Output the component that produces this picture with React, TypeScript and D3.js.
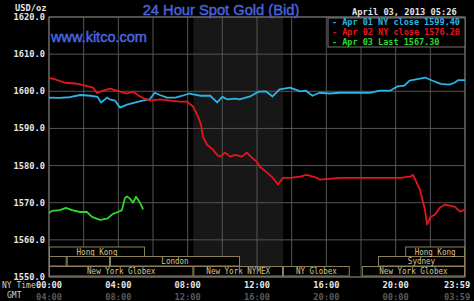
import React from "react";
import * as d3 from "d3";

const W = 474;
const H = 301;

const yTicks = [1550, 1560, 1570, 1580, 1590, 1600, 1610, 1620];
const nyTimeLabels = ["00:00", "04:00", "08:00", "12:00", "16:00", "20:00", "23:59"];
const gmtLabels = ["04:00", "08:00", "12:00", "16:00", "20:00", "00:00", "03:59"];
const labelHours = [0, 4, 8, 12, 16, 20, 23.55];

// [hour (NY time), price]
const apr01: [number, number][] = [
  [0, 1598.3], [0.6, 1598.2], [1.2, 1598.4], [1.8, 1599.0], [2.4, 1598.8], [2.8, 1598.5],
  [3.0, 1597.0], [3.35, 1598.3], [3.5, 1597.8], [3.8, 1597.5], [4.1, 1595.6], [4.5, 1596.4],
  [5.0, 1597.0], [5.4, 1597.5], [5.8, 1597.8], [6.1, 1599.6], [6.4, 1599.0], [6.8, 1598.3],
  [7.3, 1598.3], [7.7, 1598.8], [8.1, 1599.4], [8.7, 1598.8], [9.3, 1598.8], [9.7, 1597.0],
  [10.0, 1598.5], [10.3, 1597.8], [10.7, 1598.0], [11.0, 1597.8], [11.6, 1598.6], [12.1, 1599.9],
  [12.5, 1600.0], [12.9, 1598.6], [13.3, 1600.5], [13.9, 1601.0], [14.5, 1600.0], [14.8, 1600.2],
  [15.2, 1598.8], [15.6, 1599.6], [16.2, 1599.4], [16.8, 1599.6], [17.9, 1599.6], [18.5, 1599.6],
  [19.1, 1600.2], [19.7, 1600.2], [20.1, 1601.3], [20.5, 1601.5], [20.8, 1602.9], [21.4, 1603.4],
  [21.7, 1603.7], [22.1, 1602.9], [22.6, 1602.0], [23.1, 1601.8], [23.4, 1602.3], [23.6, 1603.0],
  [24, 1603.0],
];

const apr02: [number, number][] = [
  [0, 1603.6], [0.35, 1603.2], [0.92, 1602.3], [1.5, 1602.1], [2.08, 1601.5], [2.54, 1601.0],
  [2.77, 1599.5], [3.12, 1600.2], [3.52, 1600.7], [4.1, 1599.9], [4.5, 1599.4], [4.85, 1599.9],
  [5.25, 1598.6], [5.54, 1598.0], [5.83, 1597.5], [6.4, 1597.8], [6.98, 1597.5], [7.56, 1597.2],
  [7.96, 1597.2], [8.31, 1595.9], [8.6, 1593.2], [8.77, 1591.0], [8.88, 1587.8], [9.12, 1585.6],
  [9.46, 1584.3], [9.69, 1582.9], [9.87, 1582.4], [10.15, 1583.5], [10.44, 1582.4], [10.73, 1582.9],
  [11.13, 1582.4], [11.42, 1583.5], [11.71, 1582.1], [12.0, 1581.0], [12.17, 1579.7], [12.58, 1578.1],
  [12.92, 1576.7], [13.21, 1574.9], [13.5, 1576.7], [13.9, 1576.7], [14.48, 1577.0], [14.88, 1577.5],
  [15.46, 1576.7], [15.63, 1576.2], [16.79, 1576.7], [17.94, 1576.7], [19.1, 1576.7], [20.25, 1576.7],
  [20.83, 1577.0], [21.0, 1577.5], [21.4, 1573.5], [21.69, 1568.1], [21.81, 1564.1], [21.98, 1566.0],
  [22.27, 1566.8], [22.56, 1568.7], [22.85, 1569.5], [23.13, 1569.2], [23.42, 1568.9], [23.71, 1567.6],
  [24, 1568.1],
];

const apr03: [number, number][] = [
  [0, 1567.2], [0.17, 1567.8], [0.63, 1568.0], [0.98, 1568.6], [1.33, 1568.0], [1.79, 1567.5],
  [2.19, 1567.5], [2.48, 1566.2], [2.94, 1565.4], [3.35, 1565.7], [3.69, 1567.0], [3.98, 1567.5],
  [4.21, 1568.0], [4.38, 1571.3], [4.5, 1571.7], [4.67, 1571.1], [4.85, 1570.0], [5.02, 1571.6],
  [5.25, 1570.0], [5.43, 1568.2],
];

const legendLabels = ["- Apr 01 NY close 1599.40", "- Apr 02 NY close 1576.20", "- Apr 03 Last 1567.30"];

// sessions
const sessionNames = ["Hong Kong", "", "", "London", "New York Globex", "New York NYMEX", "NY Globex", "New York Globex", "Sydney", "Hong Kong"];
const sessionStart = [0, 0, 1.02, 3.52, 0, 8.33, 13.5, 18.05, 18.98, 20.55];
const sessionEnd = [5.54, 1.02, 3.52, 11.02, 8.33, 13.5, 17.35, 24, 24, 24];
const sessionRow = [0, 1, 1, 1, 2, 2, 2, 2, 1, 0];

const shadeRange = [8.33, 13.5];

const COLORS = ["#2bb4e4", "#e8141c", "#2fd82f"];

export default function App() {
  const x = d3.scaleLinear().domain([0, 24]).range([49, 465]);
  const y = d3.scaleLinear().domain([1550, 1620]).range([277, 17]);
  const line = d3
    .line<[number, number]>()
    .x((d) => x(d[0]))
    .y((d) => y(d[1]))
    .curve(d3.curveLinear);
  const series = [apr01, apr02, apr03];
  const gridHours = d3.range(0, 25, 2);
  const mono = "'DejaVu Sans Mono', 'Liberation Mono', monospace";
  const sans = "'Liberation Sans', Arial, sans-serif";
  const rowTop = [247, 256.5, 266.5];
  const rowH = 9.5;

  return (
    <div style={{ position: "fixed", left: 0, top: 0, width: W, height: H, background: "#000" }}>
      <svg width={W} height={H} style={{ display: "block", background: "#000" }}>
        <rect x={x(shadeRange[0])} y={17} width={x(shadeRange[1]) - x(shadeRange[0])} height={260} fill="#171717" />
        {yTicks.map((t) => (
          <line key={"h" + t} x1={49} x2={465} y1={y(t)} y2={y(t)} stroke="#555" strokeWidth={1} />
        ))}
        {gridHours.map((h) => (
          <line key={"v" + h} x1={x(h)} x2={x(h)} y1={17} y2={277} stroke="#555" strokeWidth={1} />
        ))}
        <rect x={49} y={17} width={416} height={260} fill="none" stroke="#777" strokeWidth={1} />

        {series.map((s, i) => (
          <path key={"s" + i} d={line(s) || ""} fill="none" stroke={COLORS[i]} strokeWidth={1.8} strokeLinejoin="round" />
        ))}

        {sessionNames.map((n, i) => {
          const x0 = x(sessionStart[i]);
          const x1 = x(sessionEnd[i]);
          const top = rowTop[sessionRow[i]];
          return (
            <g key={"ses" + i}>
              <rect x={x0 + 0.5} y={top} width={x1 - x0 - 1} height={rowH} fill="#000" stroke="#8c805c" strokeWidth={1} />
              {n && (
                <text
                  x={(x0 + x1) / 2}
                  y={top + rowH / 2 + 0.5}
                  fill="#d6c48e"
                  fontFamily={mono}
                  fontSize={8.6}
                  textAnchor="middle"
                  dominantBaseline="middle"
                  textLength={n.length * 4.55}
                  lengthAdjust="spacingAndGlyphs"
                >
                  {n}
                </text>
              )}
            </g>
          );
        })}

        {yTicks.map((t) => (
          <text key={"yl" + t} x={45} y={y(t) + 0.5} fill="#e6e6e6" fontFamily={mono} fontWeight="bold" fontSize={8.7} textAnchor="end" dominantBaseline="middle">
            {d3.format(".1f")(t)}
          </text>
        ))}
        <text x={15} y={8} fill="#e6e6e6" fontFamily={mono} fontWeight="bold" fontSize={8.7} dominantBaseline="middle">
          USD/oz
        </text>

        {nyTimeLabels.map((l, i) => (
          <text key={"nt" + i} x={x(labelHours[i])} y={285} fill="#e6e6e6" fontFamily={mono} fontWeight="bold" fontSize={8.7} textAnchor="middle" dominantBaseline="middle">
            {l}
          </text>
        ))}
        {gmtLabels.map((l, i) => (
          <text key={"gt" + i} x={x(labelHours[i])} y={297} fill="#5a5a5a" fontFamily={mono} fontWeight="bold" fontSize={8.7} textAnchor="middle" dominantBaseline="middle">
            {l}
          </text>
        ))}
        <text x={2} y={285} fill="#cfcfcf" fontFamily={mono} fontSize={8} dominantBaseline="middle">NY Time</text>
        <text x={7} y={295} fill="#cfcfcf" fontFamily={mono} fontSize={8} dominantBaseline="middle">GMT</text>

        <text x={221} y={15} fill="#4a62dc" stroke="#4a62dc" strokeWidth={0.45} fontFamily={sans} fontSize={14.7} textAnchor="middle">
          24 Hour Spot Gold (Bid)
        </text>
        <text x={51} y={42} fill="#4b66e0" stroke="#4b66e0" strokeWidth={0.45} fontFamily={sans} fontSize={14.5}>
          www.kitco.com
        </text>
        <text x={352} y={12.5} fill="#e6e6e6" fontFamily={mono} fontWeight="bold" fontSize={8.7} dominantBaseline="middle">
          April 03, 2013 05:26
        </text>

        <rect x={328} y={18} width={137} height={29} fill="#000" stroke="#777" strokeWidth={1} />
        {legendLabels.map((l, i) => (
          <text key={"lg" + i} x={332} y={22.5 + i * 10} fill={COLORS[i]} fontFamily={mono} fontWeight="bold" fontSize={8.5} dominantBaseline="middle">
            {l}
          </text>
        ))}
      </svg>
    </div>
  );
}
